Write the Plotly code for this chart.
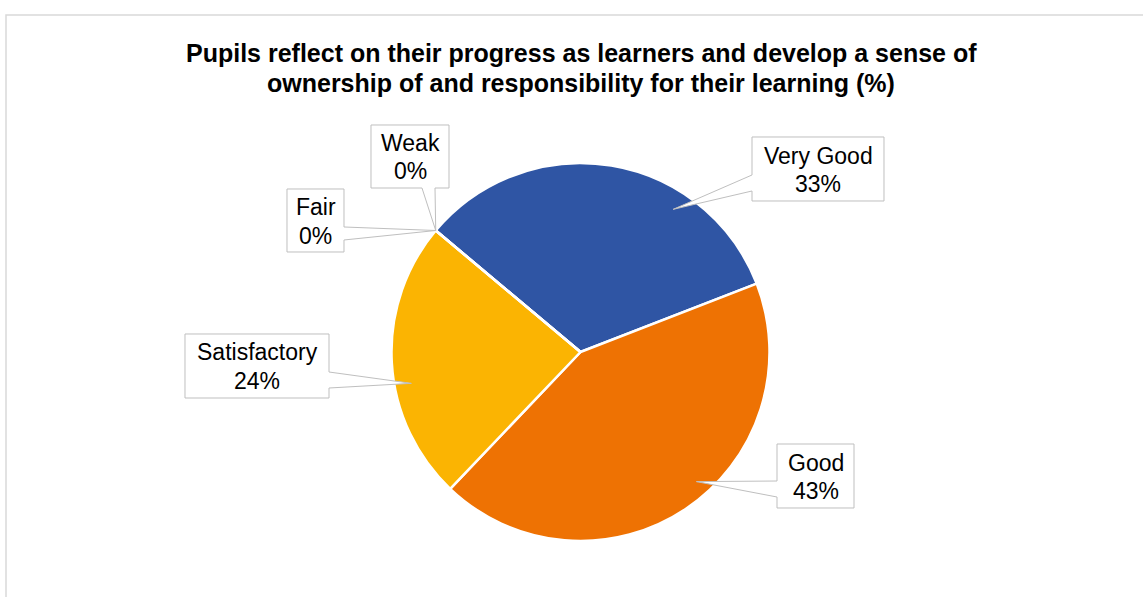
import math
import plotly.graph_objects as go

# Survey ratings (percent of responses)
categories = ["Very Good", "Good", "Satisfactory", "Fair", "Weak"]
values = [33, 43, 24, 0, 0]
colors = ["#2F55A4", "#EE7203", "#FBB402", "#A5A5A5", "#4472C4"]

title_lines = [
    "Pupils reflect on their progress as learners and develop a sense of",
    "ownership of and responsibility for their learning (%)",
]

W, H = 1143, 597
START_ANGLE = -50          # first slice starts here (degrees clockwise from 12 o'clock)
CX, CY, R = 580.5, 352.0, 189.0   # pie centre / radius in pixels
FONT = "Liberation Sans, Arial, sans-serif"


def px(x, y):
    """pixel -> paper coordinates"""
    return x / W, 1 - y / H


fig = go.Figure()
fig.add_trace(go.Pie(
    labels=categories,
    values=values,
    sort=False,
    direction="clockwise",
    rotation=START_ANGLE,
    marker=dict(colors=colors, line=dict(color="white", width=2.5)),
    textinfo="none",
    hoverinfo="label+percent",
    showlegend=False,
    domain=dict(x=[(CX - R) / W, (CX + R) / W],
                y=[1 - (CY + R) / H, 1 - (CY - R) / H]),
))

# slice mid-angles (clockwise from top)
total = sum(values)
mid_angles = []
acc = START_ANGLE
for v in values:
    span = 360 * v / total
    mid_angles.append(acc + span / 2)
    acc += span

# callout layout: box (x0, y0, x1, y1), tail side, tail attach span,
# leader angle shift from slice middle, leader radius fraction
callouts = {
    "Very Good":    dict(box=(752, 137, 884, 201), side="left",   span=(175, 191), shift=23.6, rf=0.90),
    "Good":         dict(box=(777, 444, 854, 508), side="left",   span=(481, 497), shift=-8.0, rf=0.92),
    "Satisfactory": dict(box=(185, 334, 329, 398), side="right",  span=(372, 388), shift=-7.3, rf=0.91),
    "Fair":         dict(box=(287, 189, 344, 252), side="right",  span=(227, 240), shift=0.0,  rf=1.0),
    "Weak":         dict(box=(371, 125, 449, 188), side="bottom", span=(422, 435), shift=0.0,  rf=1.0),
}


def callout_path(box, side, span, tip):
    x0, y0, x1, y1 = box
    a, b = span
    tx, ty = tip
    if side == "left":
        pts = [(x0, y0), (x1, y0), (x1, y1), (x0, y1), (x0, b), (tx, ty), (x0, a)]
    elif side == "right":
        pts = [(x0, y0), (x1, y0), (x1, a), (tx, ty), (x1, b), (x1, y1), (x0, y1)]
    else:  # bottom
        pts = [(x0, y0), (x1, y0), (x1, y1), (b, y1), (tx, ty), (a, y1), (x0, y1)]
    coords = [px(x, y) for x, y in pts]
    return "M " + " L ".join(f"{x:.5f},{y:.5f}" for x, y in coords) + " Z"


shapes = [
    # chart-area border
    dict(type="rect", xref="paper", yref="paper",
         x0=6 / W, x1=1.05, y0=-0.05, y1=1 - 15 / H,
         line=dict(color="#D9D9D9", width=1.5), fillcolor="rgba(0,0,0,0)", layer="below"),
]
annotations = []

for cat, v, ang in zip(categories, values, mid_angles):
    c = callouts[cat]
    theta = math.radians(ang + c["shift"])
    r = R * c["rf"]
    tip = (CX + r * math.sin(theta), CY - r * math.cos(theta))
    shapes.append(dict(type="path", xref="paper", yref="paper",
                       path=callout_path(c["box"], c["side"], c["span"], tip),
                       fillcolor="white", line=dict(color="#BFBFBF", width=1),
                       layer="above"))
    bx0, by0, bx1, by1 = c["box"]
    cxb, cyb = (bx0 + bx1) / 2, (by0 + by1) / 2
    pct = round(100 * v / total)
    for txt, dy in ((cat, -13.5), (f"{pct}%", 15)):
        ax, ay = px(cxb, cyb + dy)
        annotations.append(dict(
            x=ax, y=ay, xref="paper", yref="paper", showarrow=False,
            xanchor="center", yanchor="middle", text=txt,
            font=dict(family=FONT, size=23, color="#000000"),
        ))

for line, yc in zip(title_lines, [53, 83]):
    x, y = px(581, yc)
    annotations.append(dict(
        x=x, y=y, xref="paper", yref="paper", showarrow=False,
        xanchor="center", yanchor="middle",
        text=f"<b>{line}</b>",
        font=dict(family=FONT, size=25, color="#000000"),
    ))

fig.update_layout(
    width=W, height=H,
    margin=dict(l=0, r=0, t=0, b=0),
    paper_bgcolor="white", plot_bgcolor="white",
    shapes=shapes, annotations=annotations,
)

fig.write_html("out.html")
